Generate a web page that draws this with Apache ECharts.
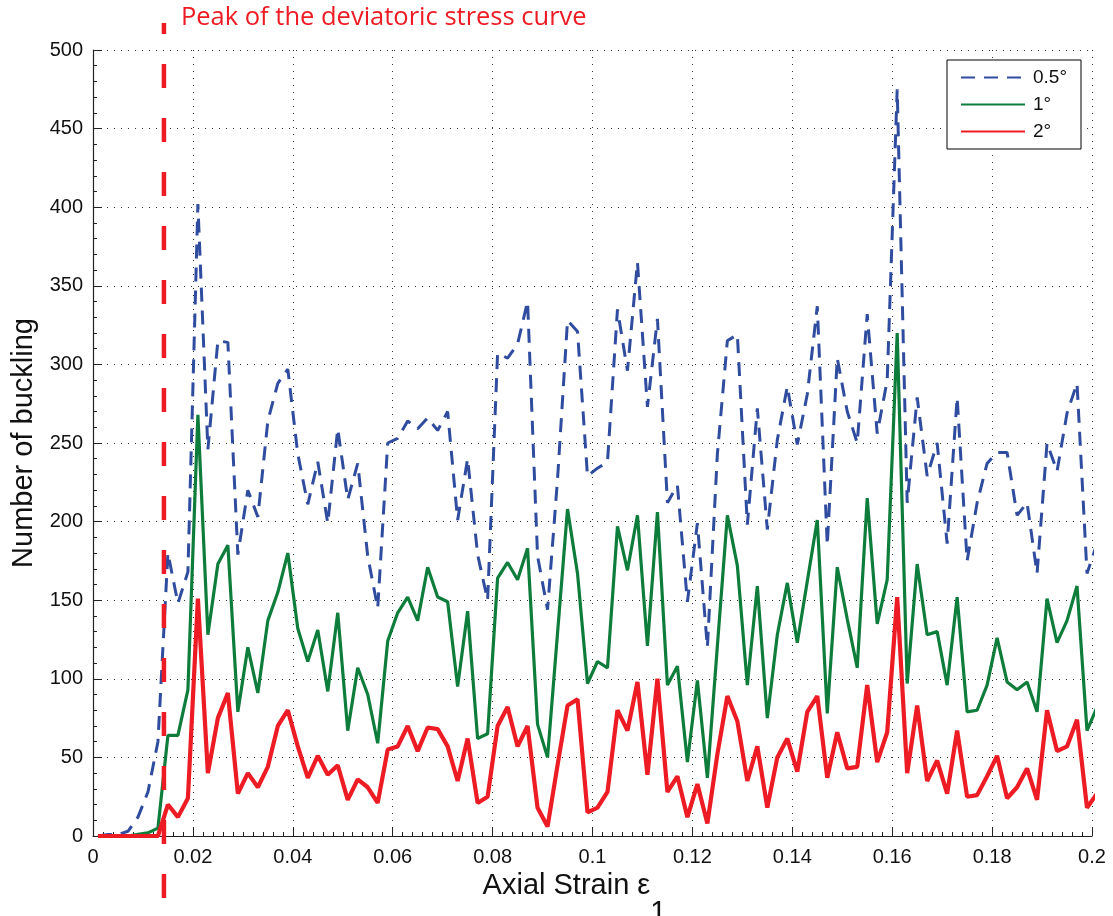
<!DOCTYPE html>
<html>
<head>
<meta charset="utf-8">
<title>Number of buckling vs axial strain</title>
<script src="https://cdn.jsdelivr.net/npm/echarts@6/dist/echarts.min.js"></script>
<style>
  html, body { margin: 0; padding: 0; background: #fff; }
  #chart { width: 1113px; height: 916px; }
</style>
</head>
<body>
<div id="chart"></div>
<script>
  // sampling of the axial strain: one value every 0.002, starting at 0.001
  var firstStrain = 0.001;
  var strainStep = 0.002;

  // strain at the peak of the deviatoric stress curve
  var peakStrain = 0.0142;

  var seriesNames = ["0.5°", "1°", "2°"];

  var buckling05 = [
    0, 1, 1, 3, 12, 28, 60, 180, 148, 168,
    402, 246, 315, 314, 179, 220, 203, 264, 288, 297,
    243, 211, 238, 199, 259, 214, 237, 178, 145, 250,
    253, 264, 259, 266, 258, 270, 201, 240, 179, 150,
    307, 304, 313, 340, 178, 144, 227, 328, 321, 229,
    234, 238, 335, 296, 365, 273, 329, 212, 223, 149,
    199, 120, 243, 315, 319, 198, 272, 195, 252, 286,
    249, 281, 337, 185, 304, 270, 250, 332, 256, 290,
    475, 212, 279, 229, 250, 186, 279, 175, 212, 237,
    244, 244, 204, 212, 167, 250, 232, 269, 288, 167,
    186
  ];

  var buckling1 = [
    0, 0, 0, 0, 1, 2, 5, 64, 64, 93,
    268, 128, 173, 185, 79, 120, 91, 137, 155, 180,
    132, 111, 131, 92, 142, 67, 107, 90, 59, 124,
    142, 152, 137, 171, 152, 149, 95, 143, 62, 65,
    164, 174, 163, 183, 71, 50, 129, 208, 167, 97,
    111, 107, 197, 169, 204, 121, 206, 96, 108, 47,
    99, 37, 121, 204, 172, 96, 159, 75, 128, 161,
    123, 162, 201, 78, 171, 138, 107, 215, 135, 163,
    320, 97, 173, 128, 130, 96, 152, 79, 80, 96,
    126, 98, 93, 98, 79, 151, 123, 137, 159, 67,
    82
  ];

  var buckling2 = [
    0, 0, 0, 0, 0, 0, 0, 20, 12, 24,
    151, 40, 75, 91, 27, 40, 31, 44, 70, 80,
    57, 37, 51, 39, 45, 23, 36, 31, 21, 55,
    57, 70, 54, 69, 68, 57, 35, 62, 21, 25,
    70, 82, 57, 70, 18, 6, 45, 83, 87, 15,
    18, 28, 80, 67, 98, 39, 100, 28, 38, 12,
    33, 8, 52, 89, 73, 35, 57, 18, 50, 62,
    41, 79, 89, 37, 66, 43, 44, 96, 47, 66,
    152, 40, 83, 35, 48, 27, 67, 25, 26, 38,
    51, 24, 31, 43, 23, 80, 54, 57, 74, 18,
    27
  ];

  var FONT = "'Liberation Sans', Arial, Helvetica, sans-serif";

  function toPairs(values) {
    return values.map(function(v, i) {
      return [+(firstStrain + i * strainStep).toFixed(3), v];
    });
  }

  var chart = echarts.init(document.getElementById("chart"), null, { renderer: "canvas" });

  var option = {
    animation: false,
    backgroundColor: "#fff",
    grid: { left: 93, right: 21, top: 50, bottom: 80, containLabel: false, outerBoundsMode: "none" },
    legend: {
      orient: "vertical",
      left: 947,
      top: 60,
      data: seriesNames,
      itemWidth: 64,
      itemHeight: 14,
      itemGap: 8,
      padding: [8, 14, 8, 13],
      borderColor: "#000",
      borderWidth: 1,
      backgroundColor: "#fff",
      // only the line sample, no marker dot
      itemStyle: { opacity: 0 },
      textStyle: { fontFamily: FONT, fontSize: 19, color: "#111", padding: [0, 0, 0, 3] }
    },
    xAxis: {
      type: "value",
      min: 0,
      max: 0.2,
      interval: 0.02,
      name: "{t|Axial Strain ε}{s|1}",
      nameLocation: "middle",
      nameGap: 23,
      nameTextStyle: {
        padding: [0, 36, 0, 0],
        rich: {
          t: { fontFamily: FONT, fontSize: 29, color: "#111", verticalAlign: "top", lineHeight: 56 },
          s: { fontFamily: FONT, fontSize: 29, color: "#111", verticalAlign: "bottom", lineHeight: 56 }
        }
      },
      axisLine: { show: true, onZero: false, lineStyle: { color: "#222", width: 1.2 } },
      axisTick: { show: true, inside: true, length: 9, lineStyle: { color: "#222" } },
      minorTick: { show: true, splitNumber: 10, length: 4, lineStyle: { color: "#222" } },
      axisLabel: {
        fontFamily: FONT, fontSize: 20, color: "#111", margin: 11,
        formatter: function(v) { return String(+v.toFixed(2)); }
      },
      splitLine: { show: true, lineStyle: { color: "#333", width: 1, type: [1, 6] } }
    },
    yAxis: {
      type: "value",
      min: 0,
      max: 500,
      interval: 50,
      name: "Number of buckling",
      nameLocation: "middle",
      nameGap: 53,
      nameTextStyle: { fontFamily: FONT, fontSize: 29, color: "#111" },
      axisLine: { show: true, onZero: false, lineStyle: { color: "#222", width: 1.2 } },
      axisTick: { show: true, inside: true, length: 9, lineStyle: { color: "#222" } },
      minorTick: { show: true, splitNumber: 5, length: 4, lineStyle: { color: "#222" } },
      axisLabel: { fontFamily: FONT, fontSize: 20, color: "#111", margin: 10 },
      splitLine: { show: true, lineStyle: { color: "#333", width: 1, type: [1, 6] } }
    },
    series: [
      {
        name: seriesNames[0],
        type: "line",
        data: toPairs(buckling05),
        symbol: "none",
        clip: true,
        z: 2,
        itemStyle: { color: "#2f4c9f" },
        lineStyle: { color: "#2f4c9f", width: 3, type: [14, 9] }
      },
      {
        name: seriesNames[1],
        type: "line",
        data: toPairs(buckling1),
        symbol: "none",
        clip: true,
        z: 3,
        itemStyle: { color: "#0e7d3b" },
        lineStyle: { color: "#0e7d3b", width: 3.2 }
      },
      {
        name: seriesNames[2],
        type: "line",
        data: toPairs(buckling2),
        symbol: "none",
        clip: true,
        z: 4,
        itemStyle: { color: "#ed1c24" },
        lineStyle: { color: "#ed1c24", width: 4.2 }
      }
    ]
  };

  chart.setOption(option);

  // vertical marker of the stress peak, running past the plot area like the original
  var peakX = chart.convertToPixel({ gridIndex: 0 }, [peakStrain, 0])[0];
  chart.setOption({
    graphic: [
      {
        type: "line",
        z: 100,
        shape: { x1: peakX, y1: 23, x2: peakX, y2: 916 },
        style: { stroke: "#ed1c24", lineWidth: 4.5, lineDash: [24, 30], lineDashOffset: 13 }
      },
      {
        type: "text",
        z: 100,
        x: peakX + 17,
        y: 18,
        style: {
          text: "Peak of the deviatoric stress curve",
          fill: "#ed1c24",
          font: "25.5px 'Open Sans', 'Liberation Sans', sans-serif",
          verticalAlign: "middle"
        }
      }
    ]
  });
</script>
</body>
</html>
